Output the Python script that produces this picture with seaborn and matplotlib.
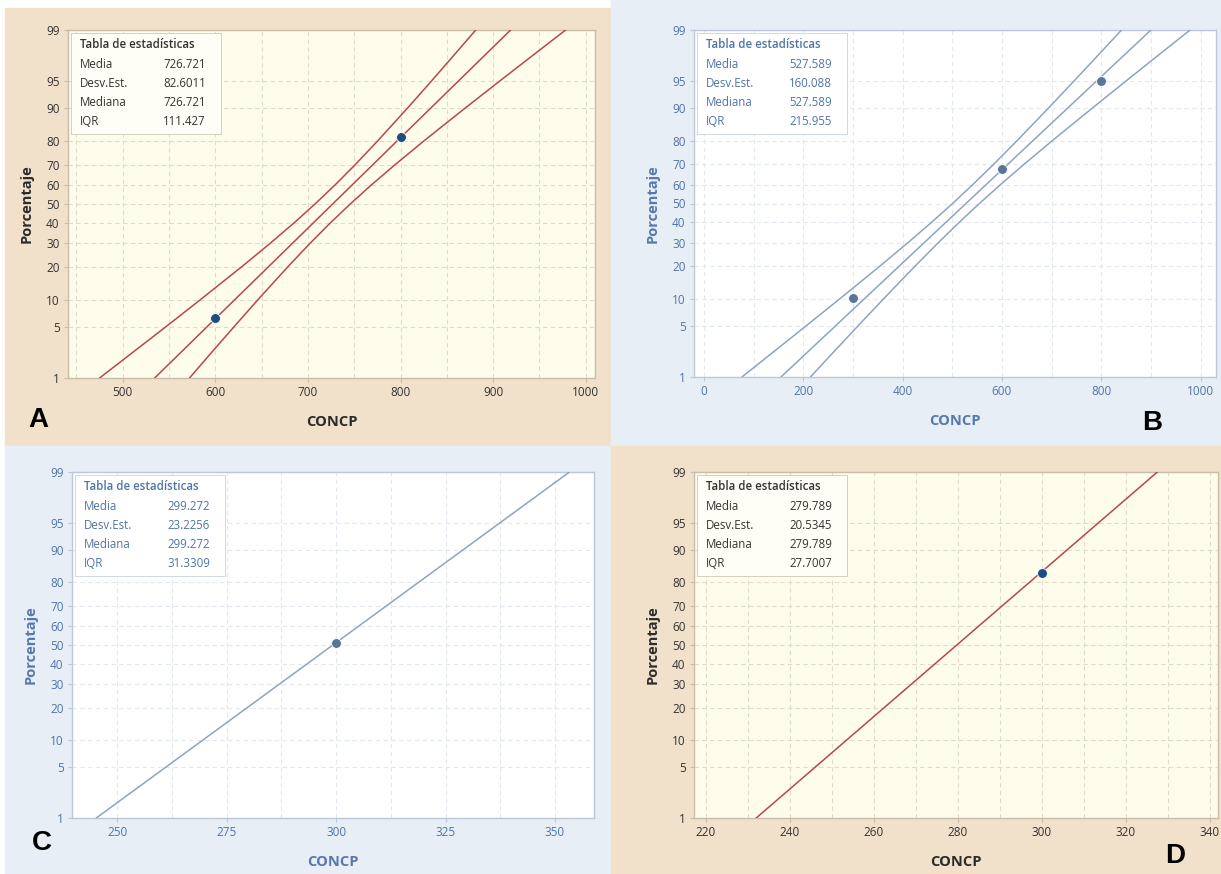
import numpy as np
import pandas as pd
import seaborn as sns
import matplotlib.pyplot as plt
from matplotlib.patches import Rectangle
from statistics import NormalDist

pct = [1, 2, 5, 10, 20, 30, 40, 50, 60, 70, 80, 90, 95, 98, 99]
fit_pct = [1, 99]
yticks = [1, 5, 10, 20, 30, 40, 50, 60, 70, 80, 90, 95, 99]
stat_names = ["Media", "Desv.Est.", "Mediana", "IQR"]

# Panel A
a_media, a_desv = 726.721, 82.6011
a_stats = ["726.721", "82.6011", "726.721", "111.427"]
a_pts_x = [600, 800]
a_pts_p = [6.4, 81.5]
a_lo = [475.1, 503.6, 546.3, 583.7, 628.3, 659.4, 685.0, 707.7,
        729.2, 751.0, 775.2, 807.5, 833.5, 862.2, 881.2]
a_hi = [572.2, 591.2, 620.0, 645.9, 678.2, 702.4, 724.2, 745.7,
        768.4, 794.0, 825.1, 869.7, 907.2, 949.8, 978.3]
a_xticks = [500, 600, 700, 800, 900, 1000]

# Panel B
b_media, b_desv = 527.589, 160.088
b_stats = ["527.589", "160.088", "527.589", "215.955"]
b_pts_x = [300, 600, 800]
b_pts_p = [10.3, 67.8, 95.0]
b_lo = [76.4, 128.0, 205.0, 272.9, 353.9, 410.9, 458.1, 500.6,
        541.3, 583.2, 630.4, 694.0, 745.5, 802.8, 840.8]
b_hi = [214.4, 252.4, 309.7, 361.2, 424.8, 472.0, 513.9, 554.6,
        597.1, 644.3, 701.3, 782.4, 850.3, 927.3, 978.8]
b_xticks = [0, 200, 400, 600, 800, 1000]

# Panel C
c_media, c_desv = 299.272, 23.2256
c_stats = ["299.272", "23.2256", "299.272", "31.3309"]
c_pts_x = [300]
c_pts_p = [51]
c_xticks = [250, 275, 300, 325, 350]

# Panel D
d_media, d_desv = 279.789, 20.5345
d_stats = ["279.789", "20.5345", "279.789", "27.7007"]
d_pts_x = [300]
d_pts_p = [83.5]
d_xticks = [220, 240, 260, 280, 300, 320, 340]

W, H = 1221, 874
ND = NormalDist()


def fwd(p):
    p = np.clip(np.asarray(p, dtype=float) / 100.0, 1e-7, 1 - 1e-7)
    return np.vectorize(ND.inv_cdf, otypes=[float])(p)


def inv(z):
    z = np.asarray(z, dtype=float)
    return 100.0 * np.vectorize(ND.cdf, otypes=[float])(z)


tan = dict(outer="#f1e0ca", inner="#fefcea", line="#b8474c", point="#1d4d7c",
           text="#333333", label="#2b2b2b", spine="#c8bda9", grid="#e0dbcb",
           table="#fffef6")
blue = dict(outer="#e8eef6", inner="#ffffff", line="#8fa4bf", point="#5a7598",
            text="#4f74a8", label="#5479ad", spine="#bcc8d8", grid="#e2e8f0",
            table="#ffffff")

sns.set_theme(style="white")
plt.rcParams["font.family"] = ["Open Sans", "DejaVu Sans"]

fig = plt.figure(figsize=(W / 100, H / 100), dpi=100)
fig.patch.set_facecolor("white")


def bg(x0, y0, x1, y1, color):
    fig.patches.append(Rectangle((x0 / W, 1 - y1 / H), (x1 - x0) / W, (y1 - y0) / H,
                                 transform=fig.transFigure, color=color, zorder=-10))


bg(5, 8, 611, 446, tan["outer"])
bg(611, 0, W, 446, blue["outer"])
bg(5, 446, 611, H, blue["outer"])
bg(611, 446, W, H, tan["outer"])


def panel(box, th, media, desv, stats, px, pp, xticks, xlim, lo=None, hi=None, minor=None):
    l, r, t, b = box
    ax = fig.add_axes([l / W, 1 - b / H, (r - l) / W, (b - t) / H])
    ax.set_facecolor(th["inner"])
    wpx, hpx = r - l, b - t

    # bands first, then fitted line, then points
    if lo is not None:
        for xs in (lo, hi):
            sns.lineplot(x=xs, y=pct, sort=False, estimator=None, ax=ax,
                         color=th["line"], lw=1.1, zorder=3)
    fit_x = [media + desv * ND.inv_cdf(q / 100) for q in fit_pct]
    sns.lineplot(x=fit_x, y=fit_pct, sort=False, estimator=None, ax=ax,
                 color=th["line"], lw=1.1, zorder=3)
    sns.scatterplot(x=px, y=pp, ax=ax, color=th["point"], s=50, edgecolor="white",
                    linewidth=0.6, zorder=5)

    ax.set_yscale("function", functions=(fwd, inv))
    ax.set_ylim(1, 99)
    ax.set_xlim(*xlim)
    ax.set_yticks(yticks)
    ax.set_yticklabels([str(v) for v in yticks])
    ax.set_xticks(xticks)
    if minor is not None:
        ax.set_xticks(minor, minor=True)
    ax.grid(True, which="both", axis="x", color=th["grid"], lw=0.8, ls=(0, (4, 3)), zorder=1)
    ax.grid(True, which="major", axis="y", color=th["grid"], lw=0.8, ls=(0, (4, 3)), zorder=1)
    ax.tick_params(axis="both", which="major", length=3, width=0.8, color=th["spine"],
                   labelsize=8.5, labelcolor=th["text"], pad=3, left=True, bottom=True)
    ax.tick_params(axis="x", which="minor", length=0)
    for s in ax.spines.values():
        s.set_color(th["spine"])
        s.set_linewidth(1.0)

    ax.set_xlabel("CONCP", fontsize=10.5, fontweight="bold", color=th["label"])
    ax.set_ylabel("Porcentaje", fontsize=10.5, fontweight="bold", color=th["label"])
    ax.xaxis.set_label_coords(0.5, -37 / hpx)
    ax.yaxis.set_label_coords(-34 / wpx, 0.5)

    # stats table
    ax.add_patch(Rectangle((3 / wpx, 1 - 104 / hpx), 150 / wpx, 101 / hpx,
                           transform=ax.transAxes, facecolor=th["table"],
                           edgecolor=th["spine"], lw=0.5, zorder=4))
    ax.text(12 / wpx, 1 - 15 / hpx, "Tabla de estadísticas", transform=ax.transAxes,
            fontsize=8.3, fontweight="semibold", color=th["text"], va="center",
            ha="left", zorder=6)
    for i, (n, v) in enumerate(zip(stat_names, stats)):
        yy = 1 - (34 + 19.3 * i) / hpx
        ax.text(12 / wpx, yy, n, transform=ax.transAxes, fontsize=8.3,
                color=th["text"], va="center", ha="left", zorder=6)
        ax.text(138 / wpx, yy, v, transform=ax.transAxes, fontsize=8.3,
                color=th["text"], va="center", ha="right", zorder=6)
    return ax


panel((68, 595, 30, 378), tan, a_media, a_desv, a_stats, a_pts_x, a_pts_p,
      a_xticks, (441, 1010), a_lo, a_hi, minor=np.arange(450, 1010, 50))
panel((694, 1216, 30, 377), blue, b_media, b_desv, b_stats, b_pts_x, b_pts_p,
      b_xticks, (-20, 1031), b_lo, b_hi, minor=np.arange(100, 1000, 200))
panel((72, 594, 472, 818), blue, c_media, c_desv, c_stats, c_pts_x, c_pts_p,
      c_xticks, (239.7, 358.9), minor=np.arange(262.5, 350, 25))
panel((694, 1218, 472, 818), tan, d_media, d_desv, d_stats, d_pts_x, d_pts_p,
      d_xticks, (217.2, 342), minor=np.arange(230, 340, 20))

for letter, x, y in [("A", 38, 420), ("B", 1152, 423), ("C", 42, 843), ("D", 1175, 856)]:
    fig.text(x / W, 1 - y / H, letter, fontsize=20, fontweight="bold", color="black",
             family=["Liberation Sans", "DejaVu Sans"], ha="center", va="center")

fig.savefig("out.png", dpi=100)
